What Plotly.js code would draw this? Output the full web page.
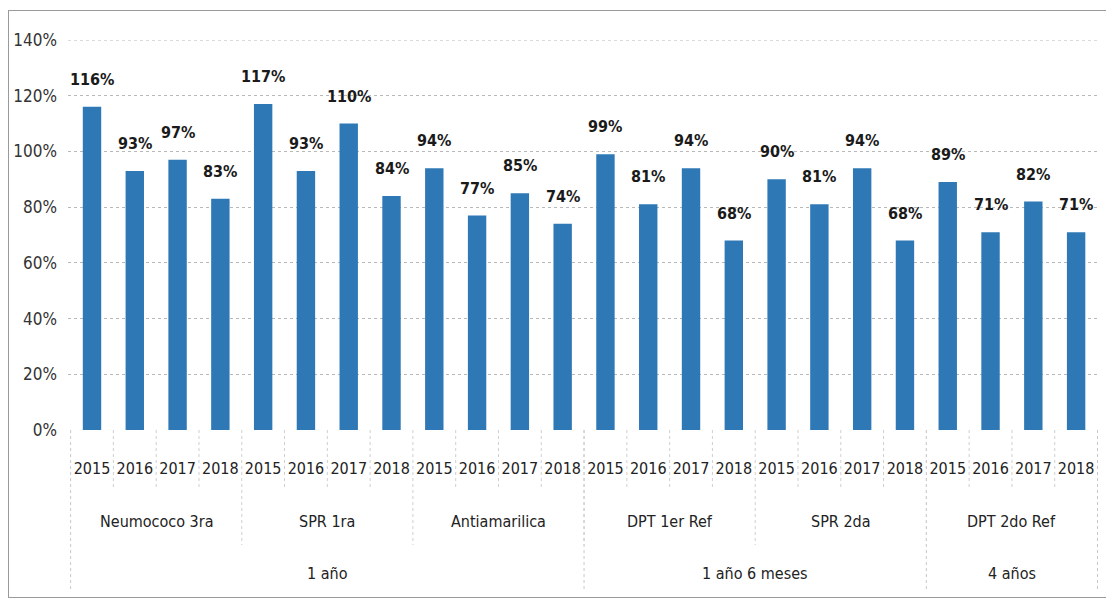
<!DOCTYPE html>
<html><head><meta charset="utf-8">
<script src="https://cdn.plot.ly/plotly-3.0.1.min.js"></script>
<style>
html,body{margin:0;padding:0;background:#fff;}
#wrap{position:relative;width:1106px;height:598px;overflow:hidden;}
#chart{position:absolute;left:0;top:0;width:1106px;height:598px;}
#frame{position:absolute;left:8px;top:10px;width:1110px;height:586px;border:1px solid #9a9a9a;pointer-events:none;}
</style></head>
<body><div id="wrap"><div id="chart"></div><div id="frame"></div></div>
<script>
const years = ["2015","2016","2017","2018"];
const vaccines = ["Neumococo 3ra","SPR 1ra","Antiamarilica","DPT 1er Ref","SPR 2da","DPT 2do Ref"];
const ageGroups = ["1 año","1 año 6 meses","4 años"];
const vaccinesPerAge = [3,2,1];
const coverage = {
  "Neumococo 3ra":[116,93,97,83],
  "SPR 1ra":[117,93,110,84],
  "Antiamarilica":[94,77,85,74],
  "DPT 1er Ref":[99,81,94,68],
  "SPR 2da":[90,81,94,68],
  "DPT 2do Ref":[89,71,82,71]
};
const yTicks = [0,20,40,60,80,100,120,140];
const yTickText = yTicks.map(v=>v+'%');

const FONT = '"Liberation Sans Narrow","DejaVu Sans Condensed","Arial Narrow",sans-serif';
const ids=[], tickText=[], vals=[];
vaccines.forEach(v=>years.forEach((y,i)=>{ids.push(v+"|"+y);tickText.push(y);vals.push(coverage[v][i]);}));

const H = 390; // plot height px
const ann=[], shapes=[];
ids.forEach((id,i)=>ann.push({x:id,y:vals[i],xref:'x',yref:'y',text:vals[i]+'%',showarrow:false,
  yanchor:'bottom',yshift:16,font:{family:FONT,size:16,color:'#1a1a1a',weight:'bold'}}));
vaccines.forEach((v,k)=>ann.push({x:k*years.length+(years.length-1)/2,y:0,xref:'x',yref:'paper',text:v,
  showarrow:false,yanchor:'middle',yshift:-91,font:{family:FONT,size:16,color:'#222'}}));
let start=0;
ageGroups.forEach((a,k)=>{const n=vaccinesPerAge[k]*years.length;
  ann.push({x:start+(n-1)/2,y:0,xref:'x',yref:'paper',text:a,showarrow:false,yanchor:'middle',yshift:-143,
  font:{family:FONT,size:16,color:'#222'}});
  shapes.push({type:'line',xref:'x',yref:'paper',x0:start-0.5,x1:start-0.5,y0:0,y1:-162/H,line:{color:'#c8c8c8',width:1,dash:'dot'}});
  start+=n;});
shapes.push({type:'line',xref:'x',yref:'paper',x0:start-0.5,x1:start-0.5,y0:0,y1:-162/H,line:{color:'#c8c8c8',width:1,dash:'dot'}});
for(let i=1;i<ids.length;i++){
  const isV = i%years.length===0;
  shapes.push({type:'line',xref:'x',yref:'paper',x0:i-0.5,x1:i-0.5,y0:0,y1:(isV?-115:-60)/H,
    line:{color:'#cfcfcf',width:1,dash:'dot'}});
}
// top gridline at range max
shapes.push({type:'line',xref:'paper',yref:'y',x0:0,x1:1,y0:yTicks[yTicks.length-1],y1:yTicks[yTicks.length-1],
  line:{color:'#b8b8b8',width:1,dash:'dot'}});

const trace={type:'bar',x:ids,y:vals,marker:{color:'#2e78b6'},hoverinfo:'skip'};
const layout={
  width:1106,height:598,margin:{l:68,r:8,t:40,b:168},
  paper_bgcolor:'rgba(0,0,0,0)',plot_bgcolor:'#fff',showlegend:false,bargap:0.57,
  font:{family:FONT,size:16,color:'#222'},
  xaxis:{type:'category',tickvals:ids,ticktext:tickText,showgrid:false,zeroline:false,showline:false,ticks:'',
    ticklabelstandoff:27,tickfont:{family:FONT,size:16,color:'#222'},fixedrange:true},
  yaxis:{range:[0,140],tickmode:'array',tickvals:yTicks,ticktext:yTickText,showgrid:true,gridcolor:'#b8b8b8',griddash:'dot',
    zeroline:false,showline:false,ticks:'',ticklabelstandoff:10,tickfont:{family:FONT,size:17,color:'#333'},fixedrange:true},
  annotations:ann,shapes:shapes
};
Plotly.newPlot('chart',[trace],layout,{displayModeBar:false,staticPlot:true});
</script></body></html>
